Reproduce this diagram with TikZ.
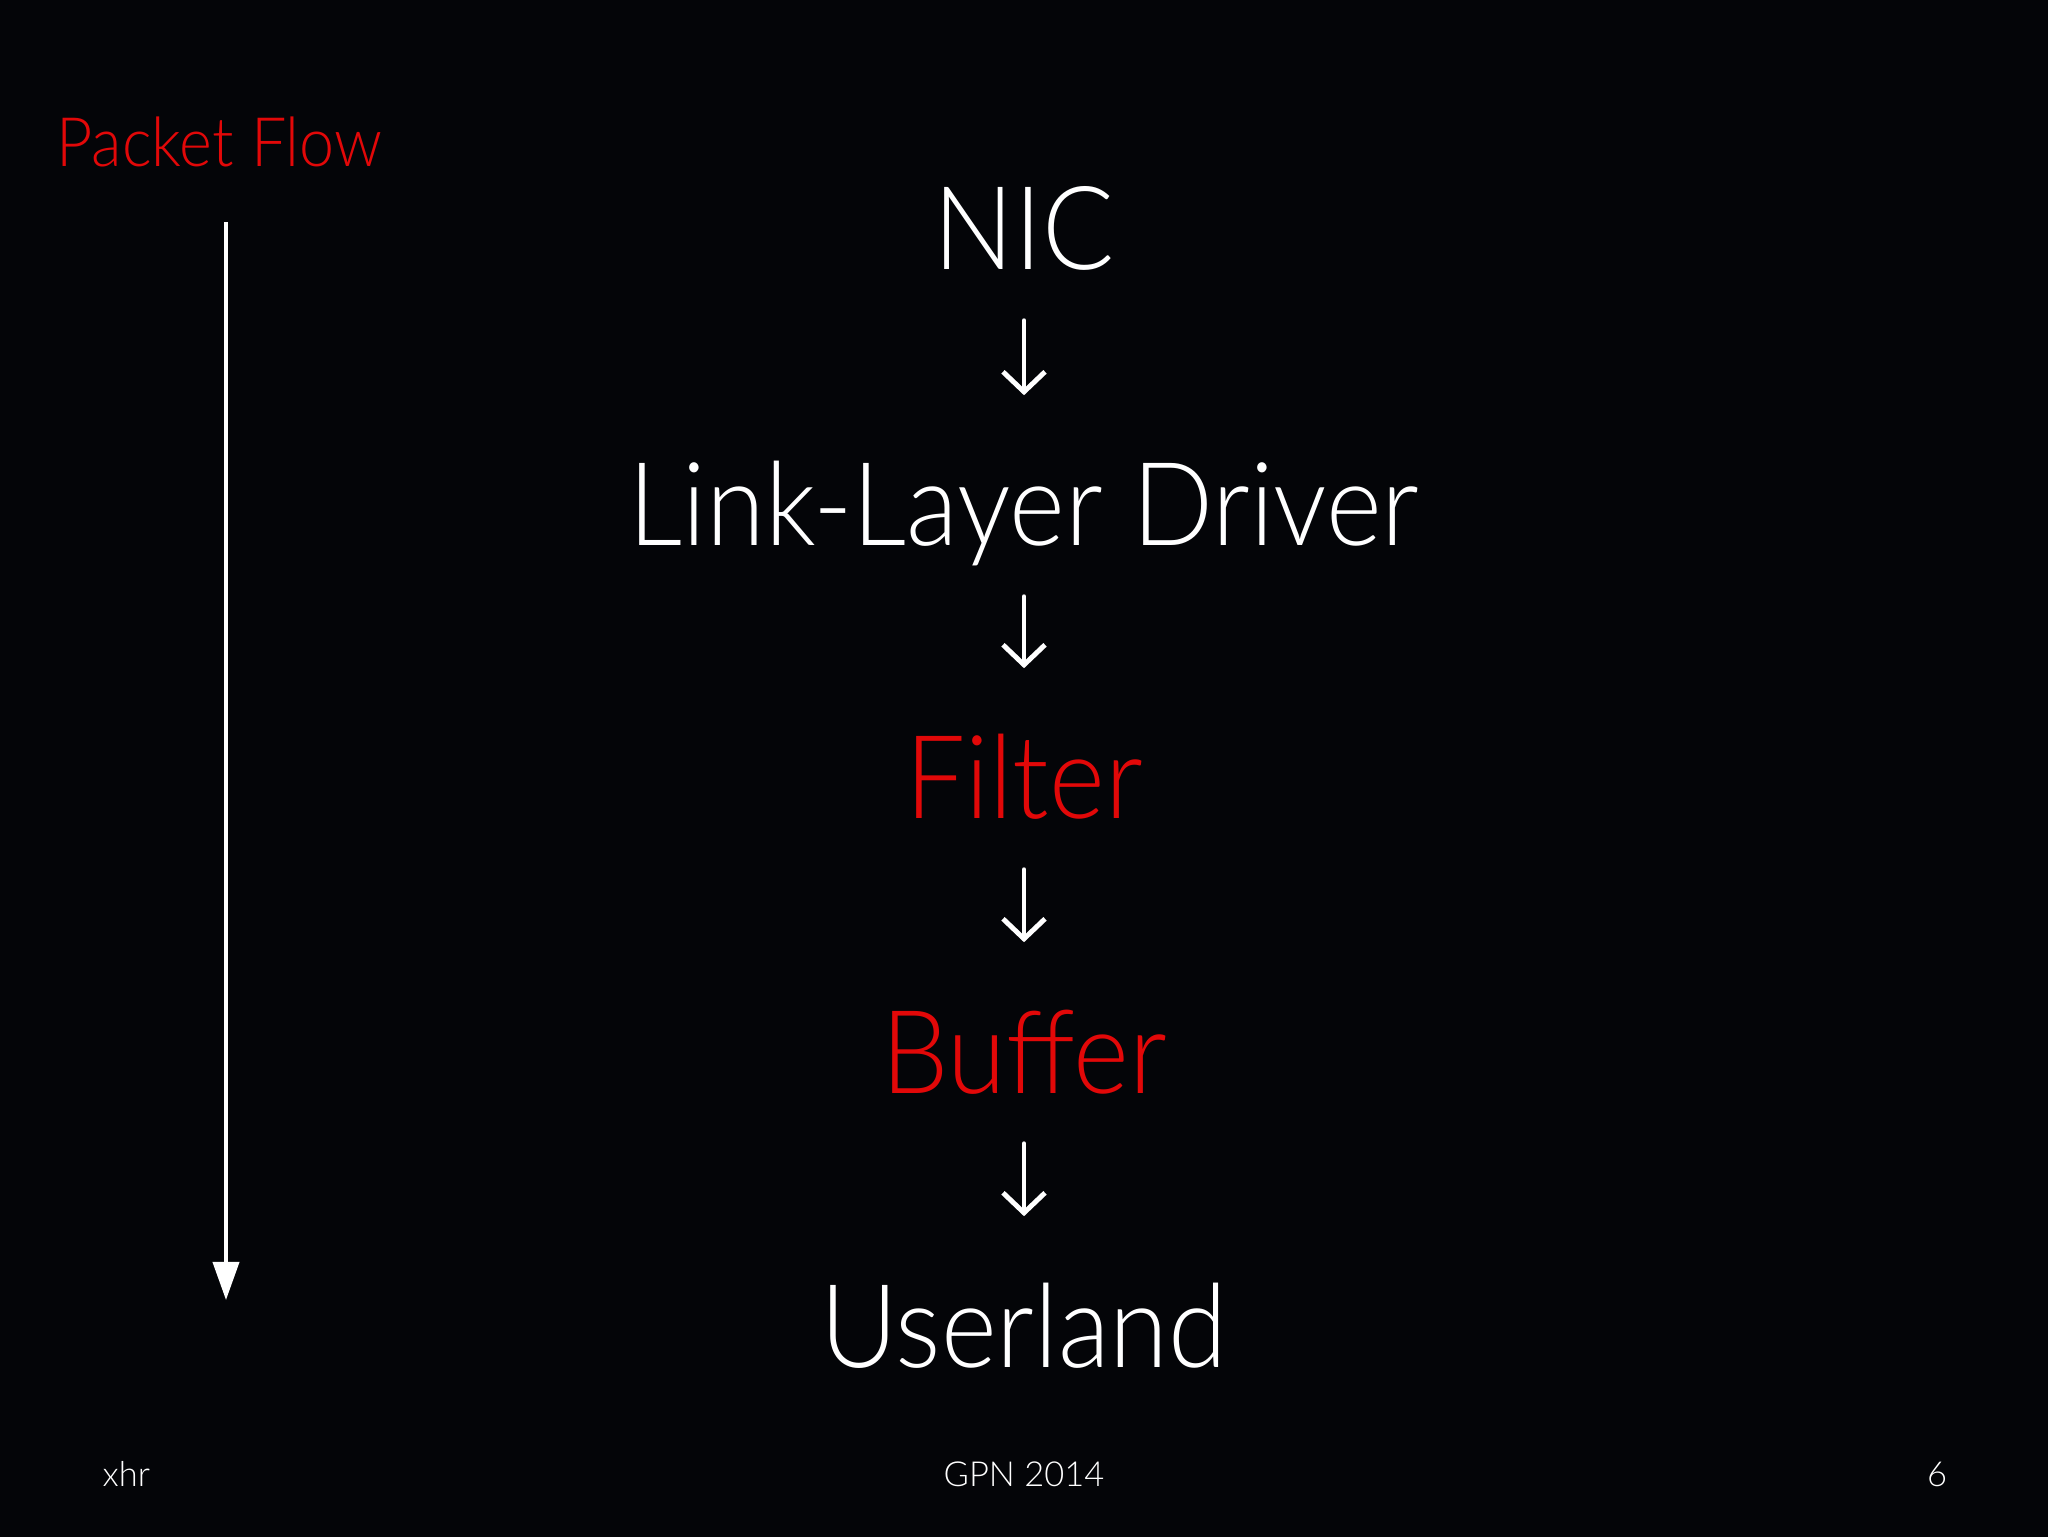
\documentclass[tikz,border=0pt]{standalone}
\usepackage{fontspec}
\setmainfont{Lato Light}
\newfontfamily\narrowlight{Lato Light}[FakeStretch=0.92]
\usetikzlibrary{arrows.meta}
\usetikzlibrary{backgrounds}
\definecolor{slidebg}{RGB}{4,5,8}
\definecolor{slidered}{RGB}{226,8,8}

\begin{document}
\begin{tikzpicture}[x=0.01cm,y=-0.01cm]
	\fill[slidebg] (0,0) rectangle (2048,1537);

	\begin{scope}[every node/.style={anchor=base, inner sep=0pt, text depth=0pt, text height=0.83cm, text=white, font=\narrowlight\fontsize{33}{40}\selectfont}]
		\node (nic) at (1024,270) {NIC};
		\node (driver) at (1024,546) {Link-Layer Driver};
		\node[text=slidered] (filter) at (1024,819) {Filter};
		\node[text=slidered] (buffer) at (1024,1093) {Buffer};
		\node (userland) at (1024,1367) {Userland};
	\end{scope}

	\begin{scope}[>={Straight Barb[length=2mm,width=4.2mm]},
	              every edge/.style={draw=white, line width=1.4pt, line cap=round, line join=round, ->, shorten <=0.5cm, shorten >=0.67cm}]
		\path (nic) edge (driver);
		\path (driver) edge (filter);
		\path (filter) edge (buffer);
		\path (buffer) edge (userland);
	\end{scope}

	\node[anchor=base west, inner sep=0pt, text=slidered, font=\narrowlight\fontsize{19.4}{23}\selectfont] (flowlabel) at (56,167) {Packet Flow};
	\coordinate (flowtop) at (226,222);
	\coordinate (flowend) at (226,1300);
	\draw[white, line width=1.1pt, -{Triangle[length=3.8mm,width=2.6mm]}] (flowtop) -- (flowend);

	\begin{scope}[every node/.style={anchor=base, inner sep=0pt, text=white, font=\fontsize{9.8}{12}\selectfont}]
		\node[anchor=base west] (author) at (102,1486) {xhr};
		\node (event) at (1024,1486) {GPN 2014};
		\node (pagenum) at (1937,1486) {6};
	\end{scope}
\end{tikzpicture}
\end{document}
